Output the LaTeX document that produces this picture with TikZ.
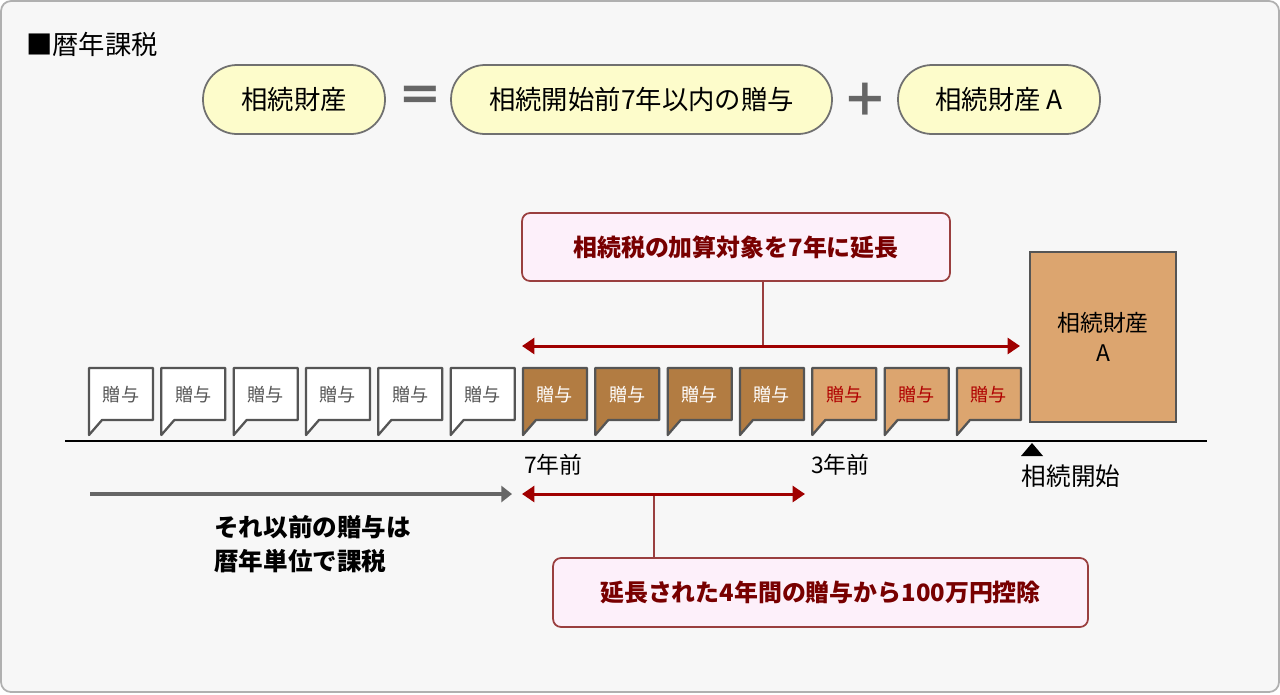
\documentclass[tikz,border=0pt]{standalone}
\usepackage{fontspec}
\setmainfont{Noto Sans CJK JP}
\usetikzlibrary{arrows.meta}
\definecolor{bgfill}{HTML}{F7F7F7}
\definecolor{bgline}{HTML}{B0B0B0}
\definecolor{pillfill}{HTML}{FDFCCB}
\definecolor{pillline}{HTML}{707070}
\definecolor{notefill}{HTML}{FDF0FA}
\definecolor{noteline}{HTML}{9A3F3F}
\definecolor{notetext}{HTML}{780000}
\definecolor{arrred}{HTML}{A00000}
\definecolor{giftbrown}{HTML}{B27C42}
\definecolor{gifttan}{HTML}{DCA56F}
\definecolor{giftline}{HTML}{555555}
\definecolor{giftgray}{HTML}{555555}
\definecolor{giftred}{HTML}{B00000}
\definecolor{signgray}{HTML}{666666}
\tikzset{
  pill/.style={draw=pillline, fill=pillfill, line width=1pt, rounded corners=0.68cm,
    minimum height=1.38cm, inner sep=0pt, font=\fontsize{15}{17}\selectfont},
  note/.style={draw=noteline, fill=notefill, line width=1pt, rounded corners=0.16cm,
    minimum height=1.36cm, inner sep=0pt, text=notetext, font=\bfseries\fontsize{13.6}{16}\selectfont},
  giftbox/.style={draw=giftline, line width=1.3pt, line join=round},
  dbl/.style={draw=arrred, line width=1.7pt, {Triangle[width=9pt,length=7pt]}-{Triangle[width=9pt,length=7pt]}},
  sign/.style={text=signgray, font=\bfseries\fontsize{26}{28}\selectfont},
}
\begin{document}
\begin{tikzpicture}[x=0.02cm, y=-0.02cm]
\useasboundingbox (0,0) rectangle (1280,694);
\draw[bgline, fill=bgfill, line width=1pt, rounded corners=0.2cm] (1,1) rectangle (1279,692);

\node[anchor=west, font=\fontsize{15}{17}\selectfont] (title) at (20,44) {■暦年課税};

\node[pill, minimum width=3.64cm] (estate) at (294,99.5) {相続財産};
\node[sign] (eq) at (420,99) {＝};
\node[pill, minimum width=7.62cm] (gifts7) at (641.5,99.5) {相続開始前7年以内の贈与};
\node[sign] (plus) at (865,100) {＋};
\node[pill, minimum width=4.04cm] (estateA) at (999,99.5) {相続財産 A};

\node[note, minimum width=8.56cm] (extend) at (736,247) {相続税の加算対象を7年に延長};
\coordinate (a1) at (522,346);
\coordinate (a2) at (1020,346);
\coordinate (m1) at (763,346);
\draw[noteline, line width=1pt] (extend.south -| m1) -- (m1);
\draw[dbl] (a1) -- (a2);

\foreach \i/\f/\t in {0/white/giftgray, 1/white/giftgray, 2/white/giftgray, 3/white/giftgray,
  4/white/giftgray, 5/white/giftgray, 6/giftbrown/white, 7/giftbrown/white, 8/giftbrown/white,
  9/giftbrown/white, 10/gifttan/giftred, 11/gifttan/giftred, 12/gifttan/giftred} {
  \pgfmathsetmacro\xl{89+72.33*\i}
  \draw[giftbox, fill=\f] (\xl,368) -- ++(64,0) -- ++(0,52) -- ++(-51,0) -- ++(-13,15) -- cycle;
  \node[text=\t, font=\fontsize{10.3}{12}\selectfont] (gift\i) at (\xl+32,395) {贈与};
}

\node[draw=giftline, fill=gifttan, line width=1.3pt, minimum width=2.92cm, minimum height=3.4cm,
  align=center, font=\fontsize{13}{17}\selectfont] (estbox) at (1103,337) {相続財産\\A};

\coordinate (tl) at (65,441);
\coordinate (tr) at (1207,441);
\draw[line width=1.2pt] (tl) -- (tr);
\fill (1032,443) -- (1021,456) -- (1043,456) -- cycle;
\node[font=\fontsize{14}{16}\selectfont] (start) at (1071,476) {相続開始};
\node[anchor=west, font=\fontsize{13}{15}\selectfont] (y7) at (518,465) {7年前};
\node[anchor=west, font=\fontsize{13}{15}\selectfont] (y3) at (805,465) {3年前};

\coordinate (p1) at (90,494);
\coordinate (p2) at (512,494);
\draw[signgray, line width=2.3pt, -{Triangle[width=9pt,length=6pt]}] (p1) -- (p2);
\node[anchor=west, align=left, font=\bfseries\fontsize{14}{19.3}\selectfont] (before) at (208,544)
  {それ以前の贈与は\\暦年単位で課税};

\coordinate (b1) at (522,494);
\coordinate (b2) at (805,494);
\coordinate (m2) at (654,494);
\node[note, minimum width=10.7cm, minimum height=1.38cm] (deduct) at (820.5,592.5)
  {延長された4年間の贈与から100万円控除};
\draw[noteline, line width=1pt] (m2) -- (m2 |- deduct.north);
\draw[dbl] (b1) -- (b2);
\end{tikzpicture}
\end{document}
